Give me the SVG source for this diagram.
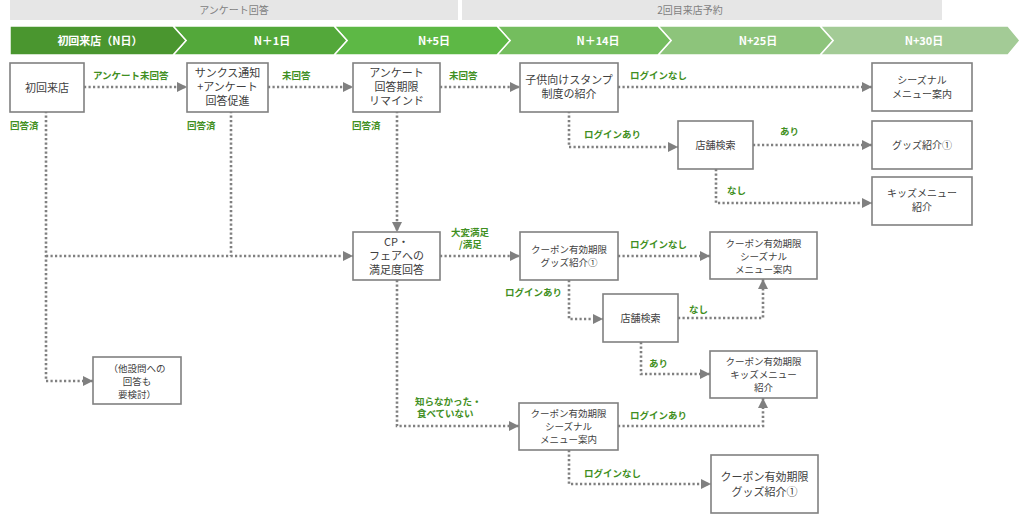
<svg xmlns="http://www.w3.org/2000/svg" width="1024" height="515" viewBox="0 0 1024 515">
<defs>
<marker id="arr" viewBox="0 0 10 10" refX="10" refY="5" markerWidth="4" markerHeight="4" markerUnits="strokeWidth" orient="auto">
<path d="M0,0 L10,5 L0,10 z" fill="#808080"/>
</marker>
</defs>
<style>
text{font-family:"Noto Sans CJK JP","Noto Sans",sans-serif;}
.band{fill:#e6e6e6;}
.bandt{font-size:10px;fill:#7f7f7f;text-anchor:middle;}
.chev{stroke:#ffffff;stroke-width:1.5;}
.chevt{font-size:11px;font-weight:bold;fill:#ffffff;text-anchor:middle;}
.box{fill:#ffffff;stroke:#808080;stroke-width:1.6;}
.nt{font-size:11px;fill:#404040;text-anchor:middle;}
.lbl{font-size:9.5px;fill:#3f8f22;font-weight:bold;}
.c{fill:none;stroke:#808080;stroke-width:2.6;stroke-dasharray:2.2 2.3;}
.ca{fill:none;stroke:#808080;stroke-width:2.6;stroke-dasharray:2.2 2.3;marker-end:url(#arr);}
</style>

<g id="header">
<rect class="band" x="10" y="0" width="448" height="20"/>
<text class="bandt" x="234" y="14">アンケート回答</text>
<rect class="band" x="462" y="0" width="480" height="20"/>
<text class="bandt" x="690" y="14">2回目来店予約</text>
<polygon class="chev" fill="#a3cb96" points="820,26 1008,26 1020,40.5 1008,55 820,55 833,40.5"/>
<polygon class="chev" fill="#8dc47b" points="658,26 820,26 833,40.5 820,55 658,55 671,40.5"/>
<polygon class="chev" fill="#74bd5e" points="497,26 658,26 671,40.5 658,55 497,55 510,40.5"/>
<polygon class="chev" fill="#5db845" points="334,26 497,26 510,40.5 497,55 334,55 347,40.5"/>
<polygon class="chev" fill="#53a83a" points="173,26 334,26 347,40.5 334,55 173,55 186,40.5"/>
<polygon class="chev" fill="#4a962f" points="10,26 173,26 186,40.5 173,55 10,55"/>
<text class="chevt" x="100" y="44.5">初回来店（N日）</text>
<text class="chevt" x="272" y="44.5">N＋1日</text>
<text class="chevt" x="434" y="44.5">N+5日</text>
<text class="chevt" x="598" y="44.5">N＋14日</text>
<text class="chevt" x="758" y="44.5">N+25日</text>
<text class="chevt" x="924" y="44.5">N+30日</text>
</g>

<g id="connectors">
<path class="ca" d="M84,87 H187"/>
<path class="ca" d="M268,87 H353"/>
<path class="ca" d="M440,87 H520"/>
<path class="ca" d="M618,87 H872"/>
<path class="ca" d="M569,111 V147 H678"/>
<path class="ca" d="M753,145 H872"/>
<path class="ca" d="M716,169 V203 H872"/>
<path class="ca" d="M46,111 V381 H93"/>
<path class="ca" d="M46,256 H353"/>
<path class="c" d="M231,111 V256"/>
<path class="ca" d="M397,111 V232"/>
<path class="ca" d="M440,256 H520"/>
<path class="ca" d="M618,256 H710"/>
<path class="ca" d="M569,280 V319 H603"/>
<path class="ca" d="M678,318 H763 V279"/>
<path class="ca" d="M641,342 V374 H710"/>
<path class="ca" d="M397,280 V426 H519"/>
<path class="ca" d="M618,426 H763 V398"/>
<path class="ca" d="M569,450 V484 H711"/>
</g>

<g id="labels">
<text class="lbl" x="93" y="79">アンケート未回答</text>
<text class="lbl" x="282" y="79">未回答</text>
<text class="lbl" x="449" y="79">未回答</text>
<text class="lbl" x="630" y="79">ログインなし</text>
<text class="lbl" x="584" y="138">ログインあり</text>
<text class="lbl" x="780" y="135">あり</text>
<text class="lbl" x="727" y="194">なし</text>
<text class="lbl" x="10" y="129">回答済</text>
<text class="lbl" x="187" y="129">回答済</text>
<text class="lbl" x="352" y="129">回答済</text>
<text class="lbl" x="451" y="236">大変満足</text>
<text class="lbl" x="459" y="248">/満足</text>
<text class="lbl" x="630" y="248">ログインなし</text>
<text class="lbl" x="505" y="296">ログインあり</text>
<text class="lbl" x="689" y="313">なし</text>
<text class="lbl" x="649" y="367">あり</text>
<text class="lbl" x="415" y="405">知らなかった・</text>
<text class="lbl" x="417" y="417">食べていない</text>
<text class="lbl" x="630" y="419">ログインあり</text>
<text class="lbl" x="584" y="477">ログインなし</text>
</g>

<g id="n1"><rect class="box" x="10" y="63" width="74" height="49"/><text class="nt" x="47" y="91.5">初回来店</text></g>
<g id="n2"><rect class="box" x="187" y="63" width="81" height="49"/><text class="nt" x="227.5" y="77">サンクス通知</text><text class="nt" x="227.5" y="91">+アンケート</text><text class="nt" x="227.5" y="105">回答促進</text></g>
<g id="n3"><rect class="box" x="353" y="63" width="87" height="49"/><text class="nt" x="396.5" y="77">アンケート</text><text class="nt" x="396.5" y="91">回答期限</text><text class="nt" x="396.5" y="105">リマインド</text></g>
<g id="n4"><rect class="box" x="520" y="63" width="98" height="49"/><text class="nt" x="569" y="84">子供向けスタンプ</text><text class="nt" x="569" y="98">制度の紹介</text></g>
<g id="n5"><rect class="box" x="872" y="63" width="100" height="48"/><text class="nt" x="922" y="84" style="font-size:10px">シーズナル</text><text class="nt" x="922" y="98" style="font-size:10px">メニュー案内</text></g>
<g id="n6"><rect class="box" x="678" y="121" width="75" height="48"/><text class="nt" x="715.5" y="149" style="font-size:10px">店舗検索</text></g>
<g id="n7"><rect class="box" x="872" y="121" width="100" height="48"/><text class="nt" x="922" y="149" style="font-size:10px">グッズ紹介①</text></g>
<g id="n8"><rect class="box" x="872" y="177" width="100" height="48"/><text class="nt" x="922" y="197" style="font-size:10px">キッズメニュー</text><text class="nt" x="922" y="211" style="font-size:10px">紹介</text></g>
<g id="n9"><rect class="box" x="353" y="232" width="87" height="48"/><text class="nt" x="396.5" y="246">CP・</text><text class="nt" x="396.5" y="260">フェアへの</text><text class="nt" x="396.5" y="274">満足度回答</text></g>
<g id="n10"><rect class="box" x="520" y="232" width="98" height="48"/><text class="nt" x="569" y="253" style="font-size:9.5px">クーポン有効期限</text><text class="nt" x="569" y="266" style="font-size:9.5px">グッズ紹介①</text></g>
<g id="n11"><rect class="box" x="710" y="232" width="107" height="47"/><text class="nt" x="763.5" y="247" style="font-size:9.5px">クーポン有効期限</text><text class="nt" x="763.5" y="260" style="font-size:9.5px">シーズナル</text><text class="nt" x="763.5" y="273" style="font-size:9.5px">メニュー案内</text></g>
<g id="n12"><rect class="box" x="603" y="294" width="75" height="48"/><text class="nt" x="640.5" y="322" style="font-size:10px">店舗検索</text></g>
<g id="n13"><rect class="box" x="710" y="351" width="107" height="47"/><text class="nt" x="763.5" y="365" style="font-size:9.5px">クーポン有効期限</text><text class="nt" x="763.5" y="378" style="font-size:9.5px">キッズメニュー</text><text class="nt" x="763.5" y="391" style="font-size:9.5px">紹介</text></g>
<g id="n14"><rect class="box" x="93" y="357" width="88" height="47"/><text class="nt" x="137" y="372" style="font-size:9.5px">（他設問への</text><text class="nt" x="137" y="385" style="font-size:9.5px">回答も</text><text class="nt" x="137" y="398" style="font-size:9.5px">要検討）</text></g>
<g id="n15"><rect class="box" x="519" y="403" width="99" height="47"/><text class="nt" x="568.5" y="417" style="font-size:9.5px">クーポン有効期限</text><text class="nt" x="568.5" y="430" style="font-size:9.5px">シーズナル</text><text class="nt" x="568.5" y="443" style="font-size:9.5px">メニュー案内</text></g>
<g id="n16"><rect class="box" x="711" y="455" width="107" height="58"/><text class="nt" x="764.5" y="481">クーポン有効期限</text><text class="nt" x="764.5" y="496">グッズ紹介①</text></g>
</svg>
